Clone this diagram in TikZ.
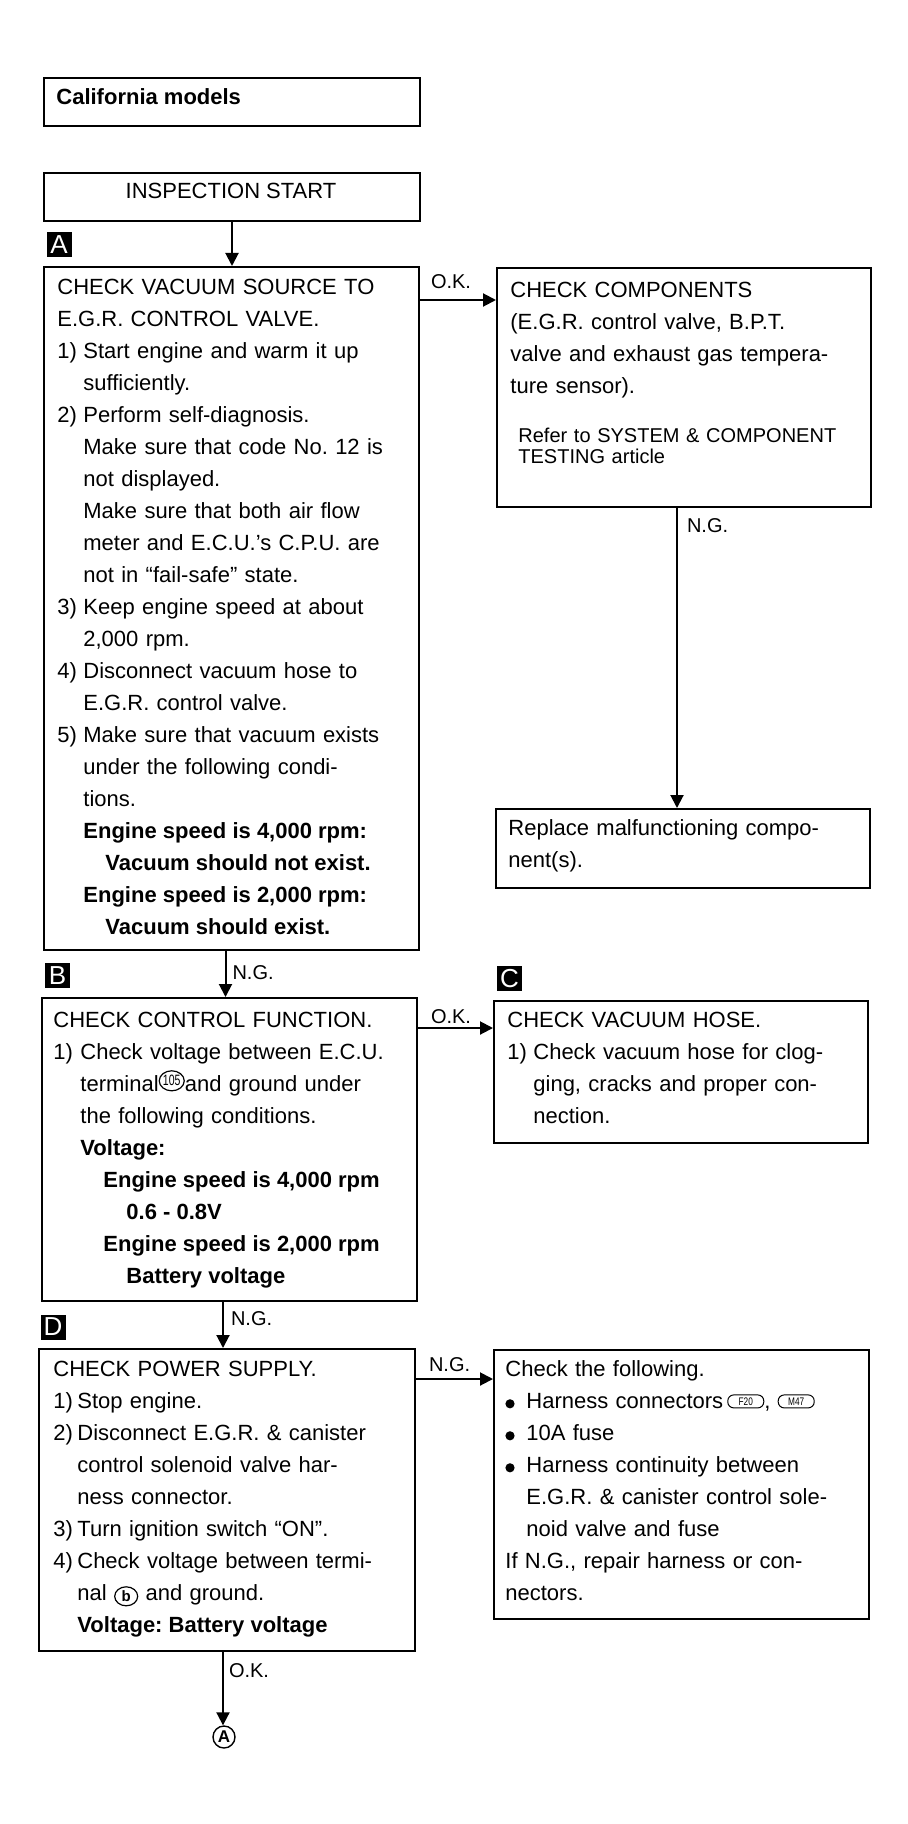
\documentclass[tikz,border=0pt]{standalone}
\usepackage{fontspec}
\setmainfont{Liberation Sans}
\usetikzlibrary{arrows.meta,shapes.geometric}
\newcommand\NI[2][13pt]{\makebox[#1][l]{#2}}
\newcommand\IN[1][13pt]{\hspace*{#1}}
\newcommand\B[1]{{\bfseries\spaceskip=0pt\relax #1}}
\newcommand\FL{\rule{0pt}{11pt}}
\newcommand\bodyfont{\fontsize{11}{16}\selectfont\frenchspacing\spaceskip=5pt plus 1pt minus 0.5pt\relax}
\newcommand\encl[2]{\tikz\node[ellipse,draw,line width=0.6pt,inner sep=0pt,minimum width=12.5pt,minimum height=10pt] (#1) {\scalebox{0.7}[1]{\fontsize{7.5}{7.5}\selectfont #2}};}
\newcommand\encircle[2]{\raisebox{-3pt}{\tikz\node[ellipse,draw,line width=0.6pt,inner sep=0pt,minimum width=11.5pt,minimum height=9.5pt,font=\bfseries\fontsize{7.5}{7.5}\selectfont] (#1) {#2};}}
\newcommand\conn[2]{\tikz\node[draw,rounded corners=3pt,line width=0.5pt,inner sep=0pt,minimum width=18pt,minimum height=6.5pt] (#1) {\scalebox{0.75}[1]{\fontsize{5.5}{5.5}\selectfont #2}};}
\newcommand\blt{\tikz\fill (0,0) circle (2.3pt);}
\begin{document}
\begin{tikzpicture}[x=0.5pt,y=-0.5pt,
  box/.style={draw,line width=1pt,inner sep=0pt,anchor=north west},
  txt/.style={anchor=north west,inner sep=0pt,text width=180pt,align=left,font=\bodyfont},
  rtxt/.style={txt,text width=175pt},
  arr/.style={line width=1pt,-{Triangle[width=6.5pt,length=6.5pt]}},
  lbl/.style={inner sep=0pt,anchor=base west,font=\fontsize{10}{12}\selectfont},
  tag/.style={fill=black,text=white,inner sep=0pt,minimum width=12.5pt,minimum height=12.5pt,font=\fontsize{13}{13}\selectfont}]

\path[use as bounding box,fill=white] (0,0) rectangle (908,1824);

% boxes
\node[box,minimum width=188pt,minimum height=24pt] (cal) at (43,77) {};
\node[box,minimum width=188pt,minimum height=24pt] (start) at (43,172) {};
\node[box,minimum width=187.5pt,minimum height=341.5pt] (A) at (43,266) {};
\node[box,minimum width=187pt,minimum height=119.5pt] (CC) at (496,267) {};
\node[box,minimum width=187pt,minimum height=39.5pt] (RP) at (495,808) {};
\node[box,minimum width=187.5pt,minimum height=151.5pt] (B) at (41,997) {};
\node[box,minimum width=187pt,minimum height=71pt] (C) at (493,1000) {};
\node[box,minimum width=188pt,minimum height=151pt] (D) at (38,1348) {};
\node[box,minimum width=187.5pt,minimum height=134.5pt] (CF) at (493,1349) {};

% tags
\node[tag] (tagA) at (59,244.5) {A};
\node[tag] (tagB) at (57.5,975.5) {B};
\node[tag] (tagC) at (509.5,978.5) {C};
\node[tag] (tagD) at (53,1327) {D};

% texts
\node[inner sep=0pt,anchor=base west,font=\bfseries\fontsize{11}{13}\selectfont] (calt) at (56,105) {California models};
\node[inner sep=0pt,anchor=base,font=\fontsize{11}{13}\selectfont] (startt) at (231,199) {INSPECTION START};

\node[txt] (At) at (57,272) {\FL CHECK VACUUM SOURCE TO\\
E.G.R. CONTROL VALVE.\\
\NI{1)}Start engine and warm it up\\
\IN sufficiently.\\
\NI{2)}Perform self-diagnosis.\\
\IN Make sure that code No. 12 is\\
\IN not displayed.\\
\IN Make sure that both air flow\\
\IN meter and E.C.U.'s C.P.U. are\\
\IN not in ``fail-safe'' state.\\
\NI{3)}Keep engine speed at about\\
\IN 2,000 rpm.\\
\NI{4)}Disconnect vacuum hose to\\
\IN E.G.R. control valve.\\
\NI{5)}Make sure that vacuum exists\\
\IN under the following condi-\\
\IN tions.\\
\IN\B{Engine speed is 4,000 rpm:}\\
\hspace*{24pt}\B{Vacuum should not exist.}\\
\IN\B{Engine speed is 2,000 rpm:}\\
\hspace*{24pt}\B{Vacuum should exist.}};

\node[rtxt] (CCt) at (510,275) {\FL CHECK COMPONENTS\\
(E.G.R. control valve, B.P.T.\\
valve and exhaust gas tempera-\\
ture sensor).};
\node[anchor=north west,inner sep=0pt,text width=175pt,align=left,font=\fontsize{10}{10.5}\selectfont] (CCr) at (518,427) {\rule{0pt}{7.5pt}Refer to SYSTEM \& COMPONENT\\TESTING article};

\node[rtxt] (RPt) at (508,813) {\FL Replace malfunctioning compo-\\
nent(s).};

\node[txt] (Bt) at (53,1005) {\FL CHECK CONTROL FUNCTION.\\
\NI[13.5pt]{1)}Check voltage between E.C.U.\\
\IN[13.5pt]terminal\encl{e105}{105}and ground under\\
\IN[13.5pt]the following conditions.\\
\IN[13.5pt]\B{Voltage:}\\
\hspace*{25pt}\B{Engine speed is 4,000 rpm}\\
\hspace*{36.5pt}\B{0.6 - 0.8V}\\
\hspace*{25pt}\B{Engine speed is 2,000 rpm}\\
\hspace*{36.5pt}\B{Battery voltage}};

\node[rtxt] (Ct) at (507,1005) {\FL CHECK VACUUM HOSE.\\
\NI{1)}Check vacuum hose for clog-\\
\IN ging, cracks and proper con-\\
\IN nection.};

\node[txt] (Dt) at (53,1354) {\FL CHECK POWER SUPPLY.\\
\NI[12pt]{1)}Stop engine.\\
\NI[12pt]{2)}Disconnect E.G.R. \& canister\\
\IN[12pt]control solenoid valve har-\\
\IN[12pt]ness connector.\\
\NI[12pt]{3)}Turn ignition switch ``ON''.\\
\NI[12pt]{4)}Check voltage between termi-\\
\IN[12pt]nal \encircle{eb}{b} and ground.\\
\IN[12pt]\B{Voltage: Battery voltage}};

\node[rtxt] (CFt) at (505,1354) {\FL Check the following.\\
\NI[10.5pt]{\blt}Harness connectors\hspace{2pt}\conn{eF20}{F20}, \conn{eM47}{M47}\\
\NI[10.5pt]{\blt}10A fuse\\
\NI[10.5pt]{\blt}Harness continuity between\\
\IN[10.5pt]E.G.R. \& canister control sole-\\
\IN[10.5pt]noid valve and fuse\\
If N.G., repair harness or con-\\
nectors.};

\node[draw,circle,line width=0.7pt,inner sep=0pt,minimum size=11pt,font=\bfseries\fontsize{8.5}{9}\selectfont] (endA) at (224,1737) {A};

% connectors
\draw[arr] (start.south) -- (start.south |- A.north);
\draw[arr] ([yshift=-17pt]A.north east) -- ([yshift=-17pt]A.north east -| CC.west)
  node[lbl,pos=0,xshift=5pt,yshift=5.5pt] (l1) {O.K.};
\draw[arr] ([xshift=-3.5pt]CC.south) -- ([xshift=-3.5pt]CC.south |- RP.north)
  node[lbl,pos=0,xshift=4.5pt,yshift=-12pt] (l2) {N.G.};
\draw[arr] ([xshift=-3pt]A.south) -- ([xshift=-3pt]A.south |- B.north)
  node[lbl,pos=0,xshift=3pt,yshift=-14pt] (l3) {N.G.};
\draw[arr] ([yshift=-15.5pt]B.north east) -- ([yshift=-15.5pt]B.north east -| C.west)
  node[lbl,pos=0,xshift=6pt,yshift=2.5pt] (l4) {O.K.};
\draw[arr] ([xshift=-3.25pt]B.south) -- ([xshift=-3.25pt]B.south |- D.north)
  node[lbl,pos=0,xshift=3.5pt,yshift=-11.5pt] (l5) {N.G.};
\draw[arr] ([yshift=-15.5pt]D.north east) -- ([yshift=-15.5pt]D.north east -| CF.west)
  node[lbl,pos=0,xshift=6pt,yshift=4pt] (l6) {N.G.};
\draw[arr] ([xshift=-2pt]D.south) -- ([xshift=-2pt]D.south |- endA.north)
  node[lbl,pos=0,xshift=2.5pt,yshift=-12.5pt] (l7) {O.K.};
\end{tikzpicture}
\end{document}
